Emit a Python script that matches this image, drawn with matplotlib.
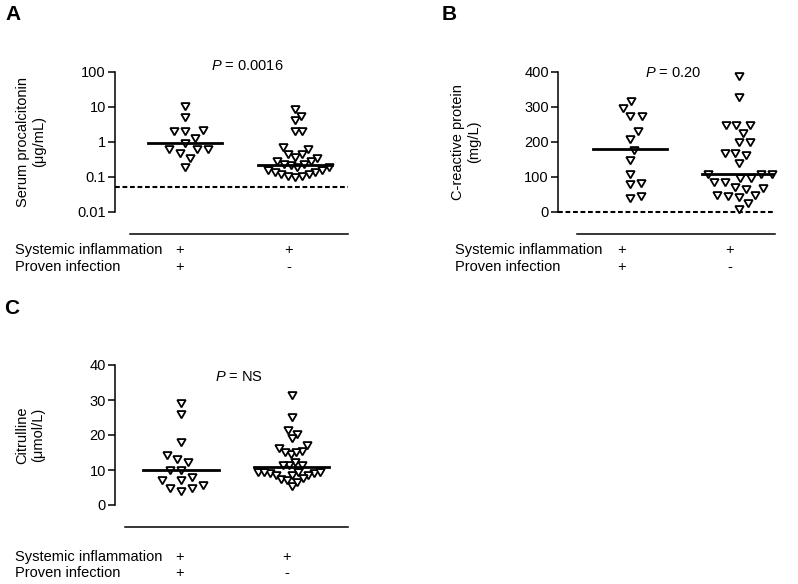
import matplotlib.pyplot as plt
import numpy as np

plt.rcParams['font.family'] = ['Liberation Sans', 'DejaVu Sans']
plt.rcParams['mathtext.fontset'] = 'custom'
plt.rcParams['mathtext.it'] = 'Liberation Sans:italic'
plt.rcParams['mathtext.rm'] = 'Liberation Sans'
plt.rcParams['font.size'] = 10.5

# values
row_names = ["Systemic inflammation", "Proven infection"]
row_signs = [["+", "+"], ["+", "-"]]

# A: serum procalcitonin (ug/mL), log axis
pct_inf = [11.2, 5.4, 2.3, 2.2, 2.2, 1.4, 0.96, 0.68, 0.65, 0.66, 0.50, 0.37, 0.20]
pct_noninf = [9.0, 5.8, 4.5, 2.2, 2.1, 0.77, 0.65, 0.47, 0.37, 0.30, 0.24, 0.225,
              0.24, 0.31, 0.40, 0.47, 0.20, 0.17, 0.146, 0.125, 0.112, 0.105,
              0.112, 0.125, 0.146, 0.17, 0.20]
pct_medians = [0.94, 0.216]
pct_cutoff = 0.05
pct_ticks = [0.01, 0.1, 1, 10, 100]
pct_ticklabels = ["0.01", "0.1", "1", "10", "100"]

# B: C-reactive protein (mg/L)
crp_inf = [320, 300, 277, 277, 233, 211, 180, 152, 112, 86, 82, 48, 42]
crp_noninf = [392, 330, 251, 251, 251, 228, 201, 201, 172, 165, 172, 143, 112,
              112, 112, 99, 99, 88, 88, 72, 73, 68, 50, 45, 48, 51, 28, 12]
crp_medians = [178, 108]
crp_cutoff = 0
crp_ticks = [0, 100, 200, 300, 400]

# C: citrulline (umol/L)
cit_inf = [29.4, 26.4, 18.4, 14.5, 12.7, 13.3, 10.4, 10.4, 8.3, 7.3, 7.3,
           5.2, 4.3, 5.2, 6.1]
cit_noninf = [31.6, 25.3, 21.6, 20.6, 19.4, 16.6, 15.6, 14.8, 15.5, 15.5, 17.3,
              12.6, 11.6, 11.6, 11.6, 9.8, 9.3, 9.0, 9.5, 9.8, 9.8, 9.0, 9.0,
              9.6, 7.8, 7.5, 8.0, 5.8, 6.8]
cit_medians = [10.1, 11.0]
cit_ticks = [0, 10, 20, 30, 40]

W, H = 798, 584
fig = plt.figure(figsize=(W / 100, H / 100), dpi=100)


def fx(x):
    return x / W


def fy(y):
    return 1 - y / H


def _swarm(ypix, gx, gy):
    xpix = np.zeros(len(ypix))
    done = []
    for i in np.argsort(ypix, kind='stable'):
        y = ypix[i]
        near = [j for j in done if abs(ypix[j] - y) < gy]
        cands = [0.0]
        for j in near:
            dx = gx * np.sqrt(1 - ((ypix[j] - y) / gy) ** 2)
            cands += [xpix[j] + dx, xpix[j] - dx]
        cands.sort(key=lambda c: (round(abs(c), 6), -c))
        for c in cands:
            if all(((xpix[j] - c) / gx) ** 2 + ((ypix[j] - y) / gy) ** 2 >= 1 - 1e-6
                   for j in near):
                break
        xpix[i] = c
        done.append(i)
    return xpix


def swarm_x(ax, center, values, gx=11.5, gy=10.5, half=34):
    # beeswarm in pixel space, squeezed sideways when the group gets too wide
    vals = np.asarray(values, float)
    ypix = ax.transData.transform(np.column_stack([np.full(len(vals), center), vals]))[:, 1]
    ppu = ax.transData.transform((1, 0))[0] - ax.transData.transform((0, 0))[0]
    xpix = _swarm(ypix, gx, gy)
    while np.abs(xpix).max() > half and gx > 5:
        gx *= 0.95
        xpix = _swarm(ypix, gx, gy)
    return center + xpix / ppu


def panel(left, top, width, xlim, xstart, ylim, ticks, series, medians, cutoff=None,
          log=False, ticklabels=None):
    ax = fig.add_axes([fx(left), fy(top + 140), fx(width), 140 / H])
    if log:
        ax.set_yscale('log')
    ax.set_xlim(*xlim)
    ax.set_ylim(*ylim)
    ax.set_yticks(ticks)
    ax.set_yticklabels(ticklabels if ticklabels else [str(t) for t in ticks])
    ax.yaxis.set_minor_locator(plt.NullLocator())
    ax.set_xticks([])
    for s in ['top', 'right']:
        ax.spines[s].set_visible(False)
    ax.spines['left'].set_linewidth(1.1)
    ax.spines['bottom'].set_linewidth(1.1)
    ax.spines['bottom'].set_position(('outward', 16))
    ax.spines['bottom'].set_bounds(xstart, xlim[1])
    ax.tick_params(axis='y', direction='out', length=5, width=1.1, labelsize=10.5, pad=1.5)
    ax.patch.set_visible(False)
    if cutoff is not None:
        ax.axhline(cutoff, color='black', lw=1.5, dashes=(2.3, 1.3), clip_on=False, zorder=2)
    for k, (vals, med) in enumerate(zip(series, medians)):
        c = k + 1
        xs = swarm_x(ax, c, vals)
        ax.plot(xs, vals, marker=(3, 0, 180), ls='none', ms=7, mfc='white', mec='black',
                mew=1.3, clip_on=False, zorder=3)
        ax.plot([c - 0.34, c + 0.34], [med, med], color='black', lw=2, zorder=4)
    return ax


panel(115, 71.7, 233, (0.3636, 2.4818), 0.5, (0.01, 100), pct_ticks,
      [pct_inf, pct_noninf], pct_medians, pct_cutoff, log=True, ticklabels=pct_ticklabels)
panel(558, 71.7, 217, (0.3376, 2.334), 0.51, (0, 400), crp_ticks,
      [crp_inf, crp_noninf], crp_medians, crp_cutoff)
panel(115, 365, 233, (0.4043, 2.507), 0.4946, (0, 40), cit_ticks,
      [cit_inf, cit_noninf], cit_medians)

# text around the panels
for letter, (x, y) in zip("ABC", [(13, 14), (449, 14), (12, 309)]):
    fig.text(fx(x), fy(y), letter, fontsize=15, fontweight='bold', ha='center', va='center')

for txt, (x, y) in zip(["Serum procalcitonin\n(\u03bcg/mL)", "C-reactive protein\n(mg/L)",
                        "Citrulline\n(\u03bcmol/L)"],
                       [(31, 141.7), (466, 141.7), (30, 435)]):
    fig.text(fx(x), fy(y), txt, rotation=90, ha='center', va='center', multialignment='center')

for p, (x, y) in zip(["0.0016", "0.20", "NS"], [(247.5, 66), (673, 73.3), (239, 376.7)]):
    fig.text(fx(x), fy(y), r"$\mathit{P}$ = " + p, ha='center', va='center')

for x0, ys, sx in [(15, (250, 267), (180, 289)), (455, (250, 267), (622, 730)),
                   (15, (556.7, 573.3), (180, 286.7))]:
    for name, signs, y in zip(row_names, row_signs, ys):
        fig.text(fx(x0), fy(y), name, ha='left', va='center')
        for s, x in zip(signs, sx):
            fig.text(fx(x), fy(y), s, ha='center', va='center')

fig.savefig("out.png", dpi=100)
